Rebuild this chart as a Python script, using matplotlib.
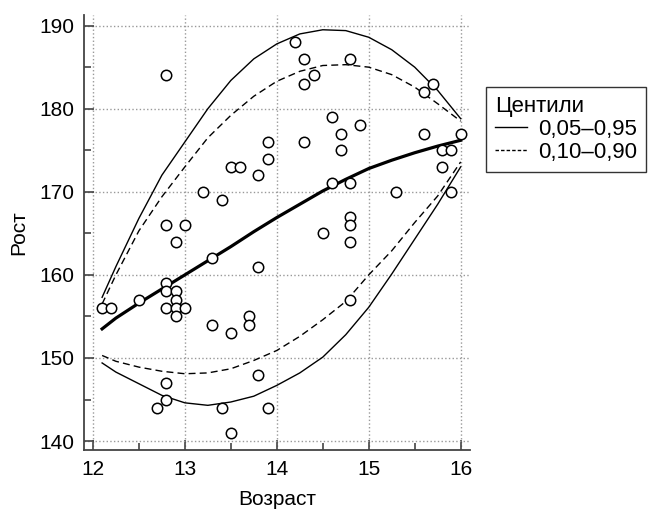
import numpy as np
import matplotlib as mpl
import matplotlib.pyplot as plt
from matplotlib.lines import Line2D
plt.rc('font', family='Liberation Sans')
mpl.rcParams.update({'font.size': 15})

# scatter: age, height
age = [12.1, 12.2, 12.5, 12.7, 12.8, 12.8, 12.8, 12.8, 12.8, 12.8, 12.8,
       12.9, 12.9, 12.9, 12.9, 12.9, 13.0, 13.0, 13.2, 13.3, 13.3, 13.4, 13.4,
       13.5, 13.5, 13.5, 13.6, 13.7, 13.7, 13.8, 13.8, 13.8, 13.9, 13.9, 13.9,
       14.2, 14.3, 14.3, 14.3, 14.4, 14.5, 14.6, 14.6, 14.7, 14.7, 14.8, 14.8,
       14.8, 14.8, 14.8, 14.8, 14.9, 15.3, 15.6, 15.6, 15.7, 15.8, 15.8, 15.9,
       15.9, 16.0]
height = [156, 156, 157, 144, 184, 166, 159, 158, 156, 147, 145,
          164, 158, 157, 156, 155, 166, 156, 170, 162, 154, 169, 144,
          173, 153, 141, 173, 155, 154, 172, 161, 148, 176, 174, 144,
          188, 186, 183, 176, 184, 165, 179, 171, 177, 175, 186, 171,
          167, 166, 164, 157, 178, 170, 182, 177, 183, 175, 173, 175,
          170, 177]

# centile curves
xc = [12.1, 12.25, 12.5, 12.75, 13.0, 13.25, 13.5, 13.75, 14.0, 14.25, 14.5,
      14.75, 15.0, 15.25, 15.5, 15.75, 16.0]
p50 = [153.5, 154.8, 156.6, 158.3, 160.0, 161.7, 163.4, 165.2, 166.9, 168.5,
       170.1, 171.5, 172.8, 173.8, 174.7, 175.5, 176.2]
p95 = [157.3, 161.0, 166.8, 172.0, 176.0, 180.0, 183.4, 186.0, 187.8, 189.0,
       189.5, 189.4, 188.6, 187.1, 185.0, 182.2, 178.8]
p90 = [156.5, 160.0, 165.3, 169.4, 173.0, 176.5, 179.2, 181.5, 183.3, 184.5,
       185.2, 185.3, 185.0, 184.1, 182.6, 180.6, 178.5]
p10 = [150.3, 149.6, 148.9, 148.4, 148.1, 148.2, 148.7, 149.7, 150.9, 152.6,
       154.6, 156.8, 160.0, 162.9, 166.3, 169.5, 173.6]
p05 = [149.4, 148.3, 146.9, 145.5, 144.6, 144.3, 144.7, 145.4, 146.7, 148.2,
       150.1, 152.8, 156.1, 160.1, 164.3, 168.5, 173.0]

fig = plt.figure(figsize=(6.49, 5.11), dpi=100)
ax = fig.add_axes([0.129, 0.119, 0.595, 0.852])

ax.plot(xc, p95, color='black', lw=1.0)
ax.plot(xc, p05, color='black', lw=1.0)
ax.plot(xc, p90, color='black', lw=1.0, ls=(0, (5, 3)))
ax.plot(xc, p10, color='black', lw=1.0, ls=(0, (5, 3)))
ax.plot(xc, p50, color='black', lw=2.3)
ax.plot(age, height, 'o', mfc='white', mec='black', ms=7.5, mew=1.1, ls='none')

ax.set_xlim(11.9, 16.1)
ax.set_ylim(138.9, 191.3)
ax.set_xticks([12, 13, 14, 15, 16])
ax.set_xticks([12.5, 13.5, 14.5, 15.5], minor=True)
ax.set_yticks([140, 150, 160, 170, 180, 190])
ax.set_yticks([145, 155, 165, 175, 185], minor=True)
ax.tick_params(which='both', direction='in', color='#444444', width=1.2,
               labelsize=15)
ax.tick_params(which='major', length=7, pad=7)
ax.tick_params(which='minor', length=5)
ax.grid(True, which='major', ls=':', color='#999999', lw=1)
for s in ['top', 'right']:
    ax.spines[s].set_visible(False)
for s in ['left', 'bottom']:
    ax.spines[s].set_color('#444444')
    ax.spines[s].set_linewidth(1.3)

ax.set_xlabel('Возраст', fontsize=15, labelpad=8)
ax.set_ylabel('Рост', fontsize=15, labelpad=8)

handles = [Line2D([], [], color='black', lw=1.0),
           Line2D([], [], color='black', lw=1.0, ls=(0, (2.5, 1.5)))]
leg = fig.legend(handles, ['0,05–0,95', '0,10–0,90'], title='Центили',
                 loc='upper left', bbox_to_anchor=(0.749, 0.83),
                 frameon=True, fancybox=False, edgecolor='black',
                 fontsize=16, title_fontsize=16, handlelength=1.45,
                 handletextpad=0.5, borderpad=0.4, labelspacing=0.1,
                 alignment='left', borderaxespad=0)
leg.get_frame().set_linewidth(1.0)

fig.savefig('out.png', dpi=100)
